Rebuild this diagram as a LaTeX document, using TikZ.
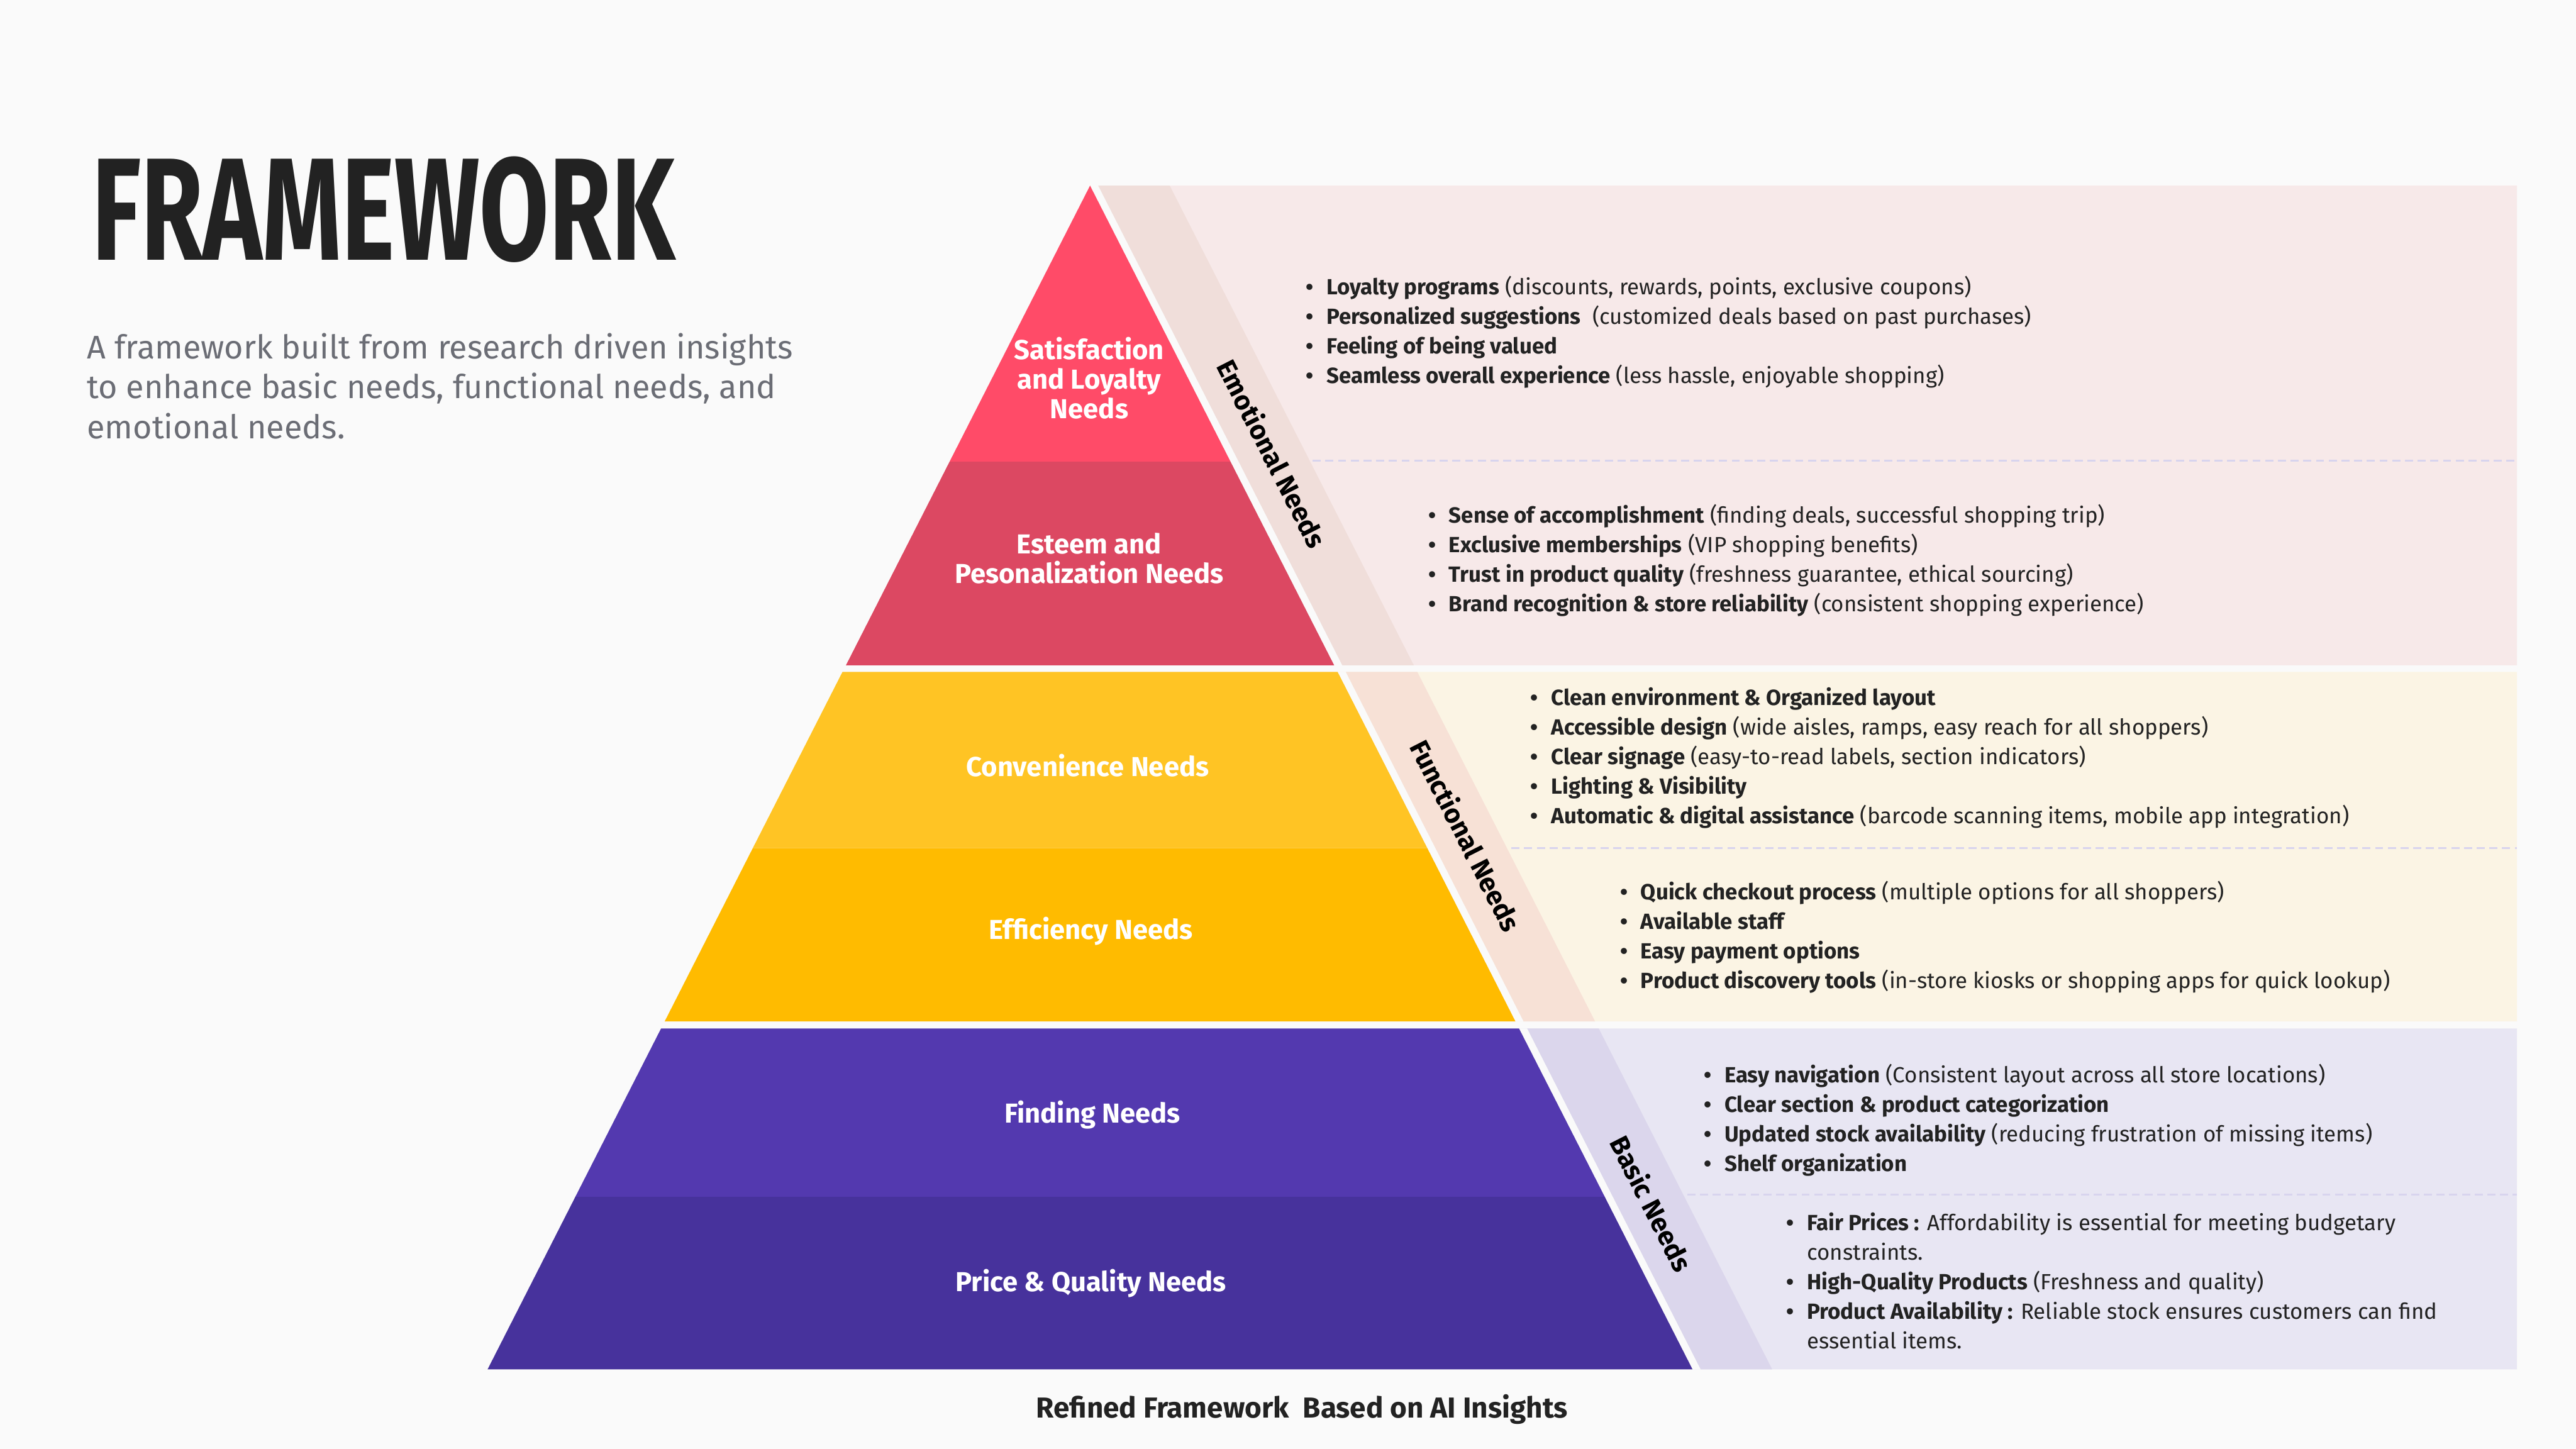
\documentclass[tikz,border=0pt]{standalone}
\usepackage{graphicx}
\usepackage{fontspec}
\setmainfont{Fira Sans}
\IfFontExistsTF{FiraSans-SemiBold.otf}
  {\newfontfamily\semifont{FiraSans-SemiBold.otf}}
  {\newcommand\semifont{\bfseries}}
\IfFontExistsTF{FiraSans-ExtraBold.otf}
  {\newfontfamily\heavyfont{FiraSans-ExtraBold.otf}}
  {\newcommand\heavyfont{\bfseries}}
\usepackage{tikz}
\definecolor{FWbg}{HTML}{FAFAFA}
\definecolor{FWink}{HTML}{222222}
\definecolor{FWgrey}{HTML}{6B6D75}
\definecolor{FWsat}{HTML}{FF4B68}
\definecolor{FWest}{HTML}{DC4862}
\definecolor{FWconv}{HTML}{FFC424}
\definecolor{FWeff}{HTML}{FFBB00}
\definecolor{FWfind}{HTML}{5339AF}
\definecolor{FWprice}{HTML}{47329C}
\definecolor{FWemoBox}{HTML}{F7E9E9}
\definecolor{FWemoBand}{HTML}{F0DEDA}
\definecolor{FWfunBox}{HTML}{FBF4E4}
\definecolor{FWfunBand}{HTML}{F7E1D6}
\definecolor{FWbasBox}{HTML}{E8E6F3}
\definecolor{FWbasBand}{HTML}{DBD6EC}
\definecolor{FWdash}{HTML}{D8D4EE}
\newcommand{\bul}{\makebox[0.25cm][l]{\semifont\textbullet}}
\newcommand{\hd}[1]{{\semifont #1}}
\tikzstyle{layerlabel} = [align=center, inner sep=0pt, text=white,
                          font=\fontsize{9.5}{10.24}\selectfont\semifont]
\tikzstyle{sidelabel}  = [inner sep=0pt, text=black, rotate=-63,
                          font=\fontsize{9.3}{10.24}\selectfont\semifont]
\tikzstyle{bulletlist} = [anchor=west, align=left, inner sep=0pt, text=FWink,
                          font=\fontsize{7.6}{10.24}\selectfont]
\tikzstyle{sepline}    = [FWdash, line width=0.6pt, dash pattern=on 2.8pt off 1.6pt]
\begin{document}
\begin{tikzpicture}[x=0.02cm, y=-0.02cm]
  \fill[FWbg] (0,0) rectangle (1568,882);

  % emotional needs
  \fill[FWemoBox]  (663.5,113) -- (1532,113) -- (1532,405) -- (812.1,405) -- cycle;
  \fill[FWbg]      (663.5,113) -- (668.5,113) -- (817.1,405) -- (812.1,405) -- cycle;
  \fill[FWemoBand] (668.5,113) -- (712,113) -- (860.6,405) -- (817.1,405) -- cycle;
  \fill[FWsat] (663.5,113) -- (749,281) -- (578,281) -- cycle;
  \fill[FWest] (578,281) -- (749,281) -- (812.1,405) -- (514.9,405) -- cycle;
  \draw[sepline] (799,280.5) -- (1532,280.5);

  % functional needs
  \fill[FWfunBox]  (814.2,409) -- (1532,409) -- (1532,621.7) -- (922.4,621.7) -- cycle;
  \fill[FWbg]      (814.2,409) -- (819.2,409) -- (927.4,621.7) -- (922.4,621.7) -- cycle;
  \fill[FWfunBand] (819.2,409) -- (862.7,409) -- (970.9,621.7) -- (927.4,621.7) -- cycle;
  \fill[FWconv] (512.8,409) -- (814.2,409) -- (868.8,516.3) -- (458.2,516.3) -- cycle;
  \fill[FWeff]  (458.2,516.3) -- (868.8,516.3) -- (922.4,621.7) -- (404.6,621.7) -- cycle;
  \draw[sepline] (920,516.3) -- (1532,516.3);

  % basic needs
  \fill[FWbasBox]  (924.6,626) -- (1532,626) -- (1532,833.5) -- (1030.2,833.5) -- cycle;
  \fill[FWbg]      (924.6,626) -- (929.6,626) -- (1035.2,833.5) -- (1030.2,833.5) -- cycle;
  \fill[FWbasBand] (929.6,626) -- (973.1,626) -- (1078.7,833.5) -- (1035.2,833.5) -- cycle;
  \fill[FWfind]  (402.4,626) -- (924.6,626) -- (976.8,728.5) -- (350.2,728.5) -- cycle;
  \fill[FWprice] (350.2,728.5) -- (976.8,728.5) -- (1030.2,833.5) -- (296.8,833.5) -- cycle;
  \draw[sepline] (1027,727) -- (1532,727);

  % titles
  \node[anchor=base west, inner sep=0pt, text=FWink] (title) at (55.6,158.4)
    {\resizebox{7.1cm}{1.26cm}{\heavyfont FRAMEWORK}};
  \node[anchor=west, align=left, inner sep=0pt, text=FWgrey,
        font=\fontsize{11.35}{13.9}\selectfont] (sub) at (52.7,235)
    {A framework built from research driven insights\\
     to enhance basic needs, functional needs, and\\
     emotional needs.};

  % pyramid labels
  \node[layerlabel] (sat)   at (663,230)   {Satisfaction\\and Loyalty\\Needs};
  \node[layerlabel] (est)   at (663,340)   {Esteem and\\Pesonalization Needs};
  \node[layerlabel] (conv)  at (662,466)   {Convenience Needs};
  \node[layerlabel] (eff)   at (664,567)   {Efficiency Needs};
  \node[layerlabel] (find)  at (665,678.5) {Finding Needs};
  \node[layerlabel] (price) at (664,781)   {Price \& Quality Needs};

  \node[sidelabel] (emo) at (774.5,276)   {Emotional Needs};
  \node[sidelabel] (fun) at (892.5,508.5) {Functional Needs};
  \node[sidelabel] (bas) at (1005.5,732.5) {Basic Needs};

  % bullet lists
  \node[bulletlist] (emoA) at (794.6,202.3)
    {\bul\hd{Loyalty programs} (discounts, rewards, points, exclusive coupons)\\
     \bul\hd{Personalized suggestions}\ \ (customized deals based on past purchases)\\
     \bul\hd{Feeling of being valued}\\
     \bul\hd{Seamless overall experience} (less hassle, enjoyable shopping)};
  \node[bulletlist] (emoB) at (869.1,341.3)
    {\bul\hd{Sense of accomplishment} (finding deals, successful shopping trip)\\
     \bul\hd{Exclusive memberships} (VIP shopping benefits)\\
     \bul\hd{Trust in product quality} (freshness guarantee, ethical sourcing)\\
     \bul\hd{Brand recognition \& store reliability} (consistent shopping experience)};
  \node[bulletlist] (funA) at (931.4,461.5)
    {\bul\hd{Clean environment \& Organized layout}\\
     \bul\hd{Accessible design} (wide aisles, ramps, easy reach for all shoppers)\\
     \bul\hd{Clear signage} (easy-to-read labels, section indicators)\\
     \bul\hd{Lighting \& Visibility}\\
     \bul\hd{Automatic \& digital assistance} (barcode scanning items, mobile app integration)};
  \node[bulletlist] (funB) at (985.9,570.5)
    {\bul\hd{Quick checkout process} (multiple options for all shoppers)\\
     \bul\hd{Available staff}\\
     \bul\hd{Easy payment options}\\
     \bul\hd{Product discovery tools} (in-store kiosks or shopping apps for quick lookup)};
  \node[bulletlist] (basA) at (1036.9,681.7)
    {\bul\hd{Easy navigation} (Consistent layout across all store locations)\\
     \bul\hd{Clear section \& product categorization}\\
     \bul\hd{Updated stock availability} (reducing frustration of missing items)\\
     \bul\hd{Shelf organization}};
  \node[bulletlist] (basB) at (1087.1,779.8)
    {\bul\hd{Fair Prices :} Affordability is essential for meeting budgetary\\
     \hspace*{0.25cm}constraints.\\
     \bul\hd{High-Quality Products} (Freshness and quality)\\
     \bul\hd{Product Availability :} Reliable stock ensures customers can find\\
     \hspace*{0.25cm}essential items.};

  \node[text=FWink, font=\fontsize{10}{11}\selectfont\semifont] (caption) at (792.5,858)
    {Refined Framework\ \ Based on AI Insights};
\end{tikzpicture}
\end{document}
